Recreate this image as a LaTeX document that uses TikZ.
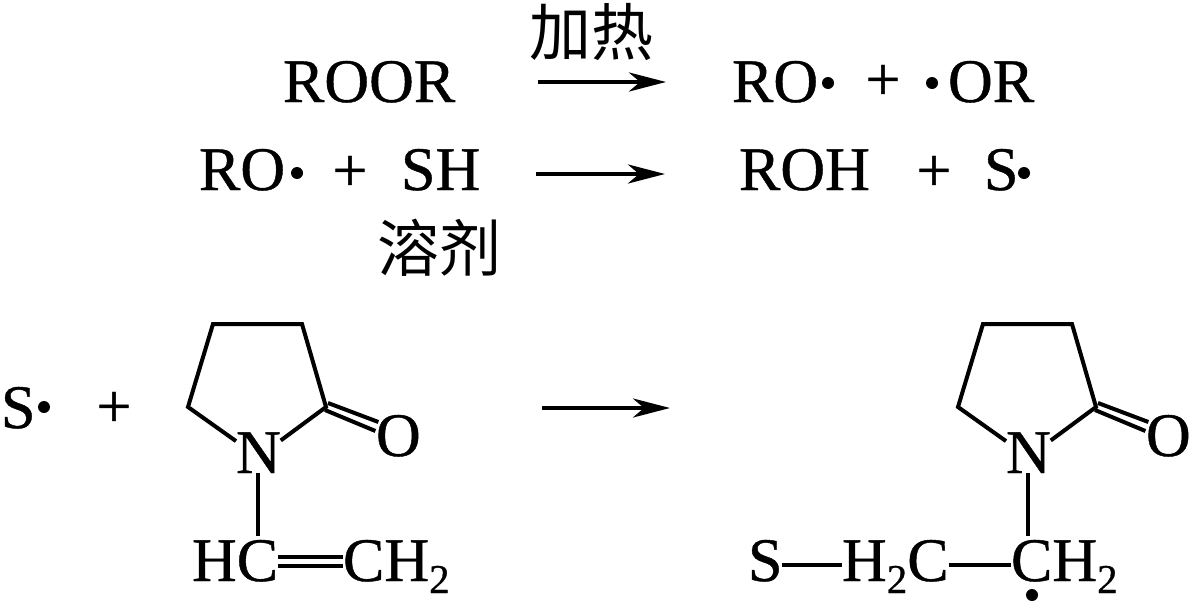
\documentclass[tikz,border=0pt]{standalone}
\usepackage{fontspec}
\usepackage{tikz}
\usetikzlibrary{arrows.meta}
\setmainfont{Liberation Serif}[FakeBold=0.7]
\newfontfamily\cjk{Noto Sans CJK SC}
\newcommand{\subtwo}{\raisebox{-12pt}{\fontsize{41}{41}\selectfont 2}}
\tikzset{
  atom/.style={anchor=base west, inner sep=0pt, outer sep=0pt, text height=45pt, text depth=13pt, font=\fontsize{62}{70}\selectfont},
  plus/.style={anchor=base, inner sep=0pt, font=\fontsize{62}{70}\selectfont},
  radical/.style={circle, fill=black, inner sep=0pt, minimum size=12pt},
  cond/.style={anchor=center, inner sep=0pt, font=\cjk\fontsize{62}{70}\selectfont},
  bond/.style={line width=4pt},
  react/.style={line width=4pt, -{Stealth[length=37pt,width=19pt,inset=11pt]}}
}
\begin{document}
\begin{tikzpicture}[x=1pt,y=-1pt]
       \useasboundingbox (0,0) rectangle (1192,613);

       \node(ROOR)[atom] at (283,102) {ROOR};
       \node(Heat)[cond] at (591,32) {加热};
       \coordinate(A1s) at (538,82);
       \coordinate(A1e) at (666,82);
       \draw[react] (A1s) -- (A1e);
       \node(RO1)[atom] at (732,102) {RO};
       \node(D1)[radical] at (828,83) {};
       \node(P1)[plus] at (883,100) {+};
       \node(D2)[radical] at (932,83) {};
       \node(OR1)[atom] at (948,102) {OR};

       \node(RO2)[atom] at (199,190) {RO};
       \node(D3)[radical] at (297,173) {};
       \node(P2)[plus] at (350,191) {+};
       \node(SH)[atom] at (401,190) {SH};
       \coordinate(A2s) at (536,174);
       \coordinate(A2e) at (665,174);
       \draw[react] (A2s) -- (A2e);
       \node(ROH)[atom] at (739,190) {ROH};
       \node(P3)[plus] at (934,191) {+};
       \node(S1)[atom] at (984,190) {S};
       \node(D4)[radical] at (1024,173) {};
       \node(Solv)[cond] at (439,248) {溶剂};

       \node(S2)[atom] at (1,428) {S};
       \node(D5)[radical] at (44,407) {};
       \node(P4)[plus] at (114,427) {+};
       \coordinate(A3s) at (542,408);
       \coordinate(A3e) at (670,408);
       \draw[react] (A3s) -- (A3e);

       \coordinate(C1a) at (188,407);
       \coordinate(C2a) at (213,324);
       \coordinate(C3a) at (302,324);
       \coordinate(C4a) at (326,407);
       \node(Na)[atom] at (236,473) {N};
       \node(Oa)[atom] at (376,456) {O};
       \draw[bond, line join=miter] (Na) -- (C1a) -- (C2a) -- (C3a) -- (C4a) -- (Na);
       \draw[bond] ([shift={(2,-4)}]C4a) -- ([shift={(-20,-18)}]Oa.center);
       \draw[bond] ([shift={(-1,3)}]C4a) -- ([shift={(-23,-9)}]Oa.center);
       \node(HCa)[atom] at (192,581) {HC};
       \node(CHa)[atom] at (343,581) {CH\subtwo};
       \draw[bond] (Na.base) -- (Na.base |- HCa.north);
       \draw[bond] ([yshift=8pt]HCa.east) -- ([yshift=8pt]CHa.west);
       \draw[bond] ([yshift=-1pt]HCa.east) -- ([yshift=-1pt]CHa.west);

       \coordinate(C1b) at (958,407);
       \coordinate(C2b) at (983,324);
       \coordinate(C3b) at (1072,324);
       \coordinate(C4b) at (1096,407);
       \node(Nb)[atom] at (1006,473) {N};
       \node(Ob)[atom] at (1146,456) {O};
       \draw[bond, line join=miter] (Nb) -- (C1b) -- (C2b) -- (C3b) -- (C4b) -- (Nb);
       \draw[bond] ([shift={(2,-4)}]C4b) -- ([shift={(-20,-18)}]Ob.center);
       \draw[bond] ([shift={(-1,3)}]C4b) -- ([shift={(-23,-9)}]Ob.center);
       \node(S3)[atom] at (748,581) {S};
       \node(H2C)[atom] at (842,581) {H\subtwo C};
       \node(CHb)[atom] at (1011,581) {CH\subtwo};
       \node(D6)[radical] at (1032,595) {};
       \draw[bond] (S3) -- (H2C);
       \draw[bond] (H2C) -- (CHb);
       \draw[bond] (Nb.base) -- (Nb.base |- CHb.north);
\end{tikzpicture}
\end{document}
